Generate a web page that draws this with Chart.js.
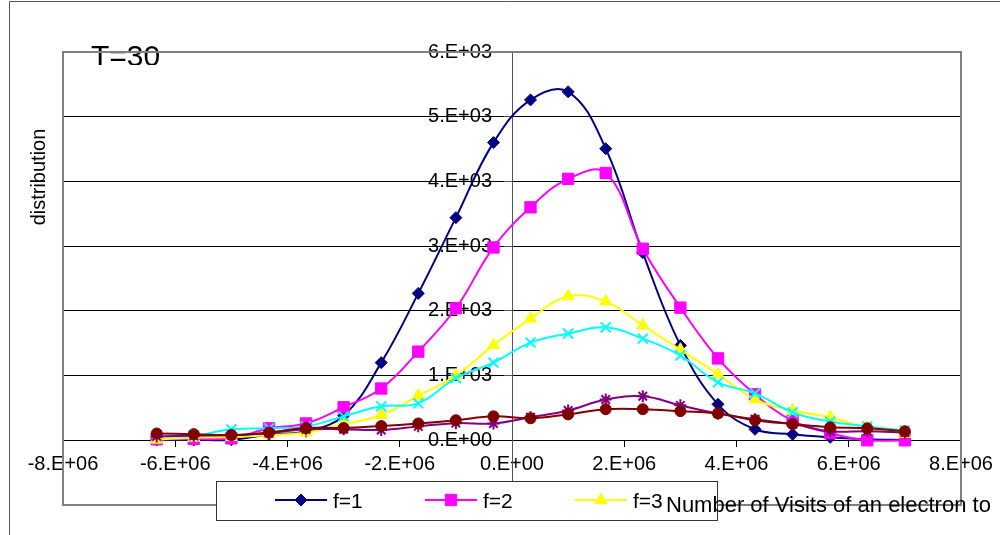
<!DOCTYPE html>
<html>
<head>
<meta charset="utf-8">
<script src="https://cdn.jsdelivr.net/npm/chart.js@4/dist/chart.umd.min.js"></script>
<style>
  body { margin: 0; background: #fff; }
  #wrap { width: 1000px; height: 535px; position: relative; }
</style>
</head>
<body>
<div id="wrap"><canvas id="chart"></canvas></div>
<script>
// Dados
const xValues = [-6.33e6, -5.67e6, -5.0e6, -4.33e6, -3.67e6, -3.0e6, -2.33e6, -1.67e6, -1.0e6, -0.33e6,
                 0.33e6, 1.0e6, 1.67e6, 2.33e6, 3.0e6, 3.67e6, 4.33e6, 5.0e6, 5.67e6, 6.33e6, 7.0e6];

const seriesNames = ['f=1', 'f=2', 'f=3', 'f=4', 'f=5', 'f=6'];
const f1 = [5, 5, 10, 90, 140, 380, 1200, 2270, 3440, 4600, 5260, 5385, 4506, 2900, 1466, 556, 170, 93, 46, 15, 5];
const f2 = [15, 20, 30, 185, 260, 510, 800, 1370, 2040, 2980, 3600, 4040, 4130, 2960, 2050, 1265, 710, 300, 110, 0, 0];
const f3 = [10, 40, 50, 80, 120, 250, 390, 690, 1000, 1470, 1880, 2225, 2145, 1775, 1400, 1020, 630, 460, 355, 190, 100];
const f4 = [60, 70, 170, 185, 215, 370, 525, 570, 960, 1200, 1510, 1650, 1745, 1570, 1310, 895, 725, 430, 290, 215, 150];
const f5 = [60, 70, 80, 110, 170, 170, 160, 215, 265, 260, 355, 460, 630, 680, 540, 415, 325, 250, 140, 140, 120];
const f6 = [105, 95, 80, 120, 190, 190, 220, 260, 310, 370, 340, 400, 480, 480, 450, 415, 310, 250, 200, 185, 140];

const xTickLabels = ['-8.E+06', '-6.E+06', '-4.E+06', '-2.E+06', '0.E+00', '2.E+06', '4.E+06', '6.E+06', '8.E+06'];
const yTickLabels = ['', '0.E+00', '1.E+03', '2.E+03', '3.E+03', '4.E+03', '5.E+03', '6.E+03'];

const titleText = 'T=30';
const yTitle = 'distribution';
const xTitle = 'Number of Visits of an electron to';

const FONT = '"Liberation Sans", Arial, sans-serif';

// Estilo de cada série (cor, marcador, tamanho)
const colors = ['#000080', '#ff00ff', '#ffff00', '#00ffff', '#800080', '#800000'];
const markers = ['rectRot', 'rect', 'triangle', 'crossRot', 'star', 'circle'];
const radii = [6, 8, 7, 7, 6, 5.5];

const allSeries = [f1, f2, f3, f4, f5, f6];

const datasets = allSeries.map((values, i) => ({
    label: seriesNames[i],
    data: xValues.map((x, j) => ({ x: x, y: values[j] })),
    borderColor: colors[i],
    backgroundColor: colors[i],
    borderWidth: 2,
    tension: 0.4,
    pointStyle: markers[i],
    pointRadius: radii[i],
    pointBorderWidth: (markers[i] === 'crossRot' || markers[i] === 'star') ? 2 : 1,
    pointBackgroundColor: colors[i],
    pointBorderColor: colors[i],
    order: allSeries.length - i
}));

// Moldura, título, legenda e títulos dos eixos
const decor = {
    id: 'decor',
    beforeDraw(chart) {
        const ctx = chart.ctx;
        ctx.save();
        ctx.strokeStyle = '#555';
        ctx.lineWidth = 1;
        ctx.beginPath();
        ctx.moveTo(9.5, 535);
        ctx.lineTo(9.5, 1.5);
        ctx.lineTo(1000, 1.5);
        ctx.stroke();

        ctx.save();
        ctx.beginPath();
        ctx.rect(0, 0, 1000, 65);
        ctx.clip();
        ctx.fillStyle = '#000';
        ctx.font = '30px ' + FONT;
        ctx.textBaseline = 'alphabetic';
        ctx.fillText(titleText, 91, 66);
        ctx.restore();

        ctx.translate(45, 177);
        ctx.rotate(-Math.PI / 2);
        ctx.fillStyle = '#000';
        ctx.font = '20px ' + FONT;
        ctx.textAlign = 'center';
        ctx.textBaseline = 'alphabetic';
        ctx.fillText(yTitle, 0, 0);
        ctx.restore();
    },
    afterDraw(chart) {
        const ctx = chart.ctx;
        const a = chart.chartArea;
        ctx.save();
        ctx.strokeStyle = '#808080';
        ctx.lineWidth = 2;
        ctx.strokeRect(a.left, a.top, a.right - a.left, a.bottom - a.top);

        // legenda (só cabem 3 itens)
        const box = { left: 216, top: 481, right: 717, bottom: 520 };
        ctx.fillStyle = '#fff';
        ctx.fillRect(box.left, box.top, box.right - box.left, box.bottom - box.top);
        ctx.strokeStyle = '#333';
        ctx.lineWidth = 1;
        ctx.strokeRect(box.left + 0.5, box.top + 0.5, box.right - box.left, box.bottom - box.top);
        ctx.save();
        ctx.beginPath();
        ctx.rect(box.left + 1, box.top + 1, box.right - box.left - 1, box.bottom - box.top - 1);
        ctx.clip();
        chart.data.datasets.forEach((ds, i) => {
            const x0 = 275 + i * 150;
            const y = 500;
            ctx.strokeStyle = ds.borderColor;
            ctx.fillStyle = ds.backgroundColor;
            ctx.lineWidth = 2;
            ctx.beginPath();
            ctx.moveTo(x0, y);
            ctx.lineTo(x0 + 52, y);
            ctx.stroke();
            if (Chart.helpers && Chart.helpers.drawPoint) {
                ctx.lineWidth = ds.pointBorderWidth;
                Chart.helpers.drawPoint(ctx, {
                    pointStyle: ds.pointStyle,
                    radius: ds.pointRadius,
                    rotation: 0,
                    borderWidth: ds.pointBorderWidth
                }, x0 + 26, y);
            }
            ctx.fillStyle = '#000';
            ctx.font = '21px ' + FONT;
            ctx.textBaseline = 'alphabetic';
            ctx.fillText(ds.label, x0 + 58, 508);
        });
        ctx.restore();

        ctx.fillStyle = '#000';
        ctx.font = '22px ' + FONT;
        ctx.textBaseline = 'alphabetic';
        ctx.fillText(xTitle, 666, 512);
        ctx.restore();
    }
};

const chart = new Chart(document.getElementById('chart'), {
    type: 'line',
    data: { datasets: datasets },
    options: {
        responsive: true,
        maintainAspectRatio: false,
        animation: false,
        layout: { padding: { left: 63, right: 39, top: 52, bottom: 30 } },
        plugins: {
            legend: { display: false },
            tooltip: { enabled: false }
        },
        scales: {
            x: {
                type: 'linear',
                position: { y: 0 },
                min: -8e6,
                max: 8e6,
                ticks: {
                    stepSize: 2e6,
                    autoSkip: false,
                    maxRotation: 0,
                    color: '#000',
                    font: { family: FONT, size: 20 },
                    padding: 6,
                    callback: (value, index) => xTickLabels[index]
                },
                grid: {
                    drawOnChartArea: false,
                    drawTicks: true,
                    tickLength: 6,
                    tickColor: '#000'
                },
                border: { color: '#000', width: 1 }
            },
            y: {
                type: 'linear',
                position: { x: 0 },
                min: -1000,
                max: 6000,
                ticks: {
                    stepSize: 1000,
                    color: '#000',
                    font: { family: FONT, size: 20 },
                    // o eixo central não deixa folga: espaços empurram o rótulo para a esquerda
                    callback: (value, index) => yTickLabels[index] ? yTickLabels[index] + '\u2002\u2002' : ''
                },
                grid: {
                    color: '#000',
                    lineWidth: 1,
                    drawTicks: true,
                    tickLength: 8,
                    tickColor: '#555'
                },
                border: { color: '#555', width: 1 }
            }
        }
    },
    plugins: [decor]
});
</script>
</body>
</html>
